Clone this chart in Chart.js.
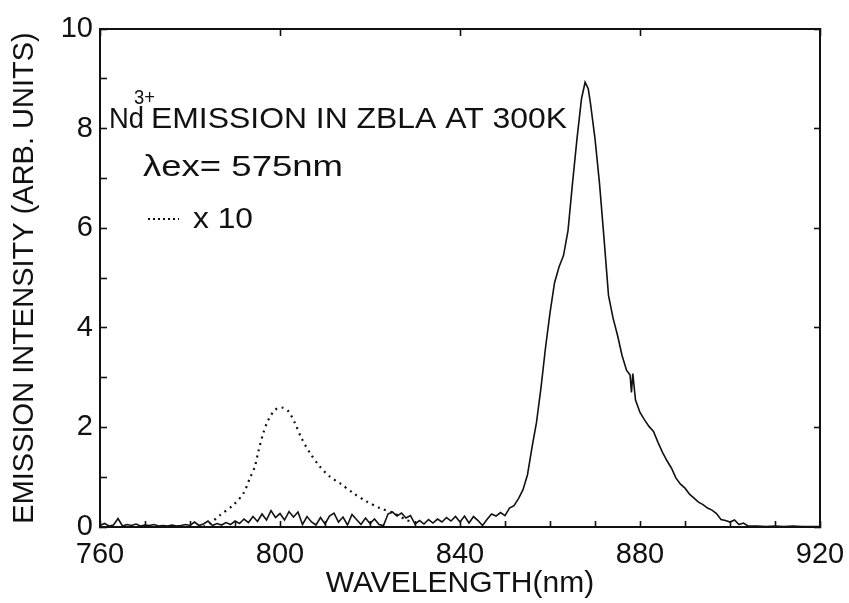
<!DOCTYPE html>
<html><head><meta charset="utf-8">
<script src="https://cdn.jsdelivr.net/npm/chart.js@4.4.1/dist/chart.umd.min.js"></script>
<style>html,body{margin:0;padding:0;background:#fff;}#wrap{width:849px;height:603px;}</style>
</head><body><div id="wrap"><canvas id="c" width="849" height="603"></canvas></div>
<script>
// ---- data ----
const solidWavelength = [760,761,762,763,764,765,766,767,768,769,770,771,772,773,774,775,776,777,778,779,
780,781,782,783,784,785,786,787,788,789,790,791,792,793,794,795,796,797,798,799,
800,801,802,803,804,805,806,807,808,809,810,811,812,813,814,815,816,817,818,819,
820,821,822,823,824,825,826,827,828,829,830,831,832,833,834,835,836,837,838,839,
840,841,842,843,844,845,846,847,848,849,850,851,852,853,854,855,856,857,858,859,
860,861,862,863,864,865,866,867,867.8,868.5,869,870,871,872,873,874,875,876,877,877.8,878.1,878.4,879,
880,881,882,883,884,885,886,887,888,889,890,891,892,893,894,895,896,897,898,899,
900,901,902,903,904,906,908,910,912,914,916,918,920];
const solidIntensity = [0.03,0.07,0.02,0.04,0.17,0.02,0.05,0.03,0.06,0.02,0.04,0.03,0.05,0.02,0.03,0.02,0.04,0.02,0.03,0.05,
0.03,0.10,0.03,0.06,0.12,0.03,0.07,0.04,0.09,0.05,0.12,0.07,0.16,0.09,0.21,0.11,0.26,0.14,0.33,0.19,
0.27,0.14,0.31,0.20,0.30,0.05,0.21,0.10,0.04,0.19,0.06,0.22,0.28,0.10,0.20,0.04,0.25,0.15,0.05,0.18,
0.07,0.16,0.05,0.03,0.26,0.30,0.22,0.28,0.18,0.23,0.06,0.13,0.06,0.15,0.08,0.16,0.10,0.19,0.12,0.21,
0.10,0.22,0.08,0.21,0.13,0.03,0.15,0.26,0.22,0.29,0.23,0.38,0.43,0.57,0.75,1.05,1.60,2.10,2.80,3.60,
4.30,4.90,5.22,5.45,5.95,6.90,7.80,8.60,8.93,8.80,8.50,7.80,6.90,5.80,4.65,4.20,3.85,3.45,3.15,3.05,2.70,3.08,2.55,
2.30,2.15,2.02,1.92,1.70,1.50,1.33,1.18,0.98,0.86,0.78,0.66,0.58,0.50,0.45,0.38,0.34,0.27,0.15,0.13,
0.10,0.14,0.05,0.08,0.02,0.02,0.01,0.02,0.01,0.02,0.01,0.01,0.01];
const dottedWavelength = [783,784.4,786.7,789.6,791.9,793.3,794.4,795.2,796.3,797.4,798.9,800.4,801.9,803.3,804.8,806.7,808.9,811.1,813.3,816.3,819.3,822.2,825.2,828.1,829.5];
const dottedIntensity = [0.0,0.07,0.24,0.44,0.68,0.98,1.21,1.52,1.89,2.15,2.35,2.40,2.32,2.09,1.78,1.48,1.21,1.01,0.88,0.68,0.51,0.38,0.28,0.14,0.10];
const xMin = 760, xMax = 920, xLabelStep = 40, xMinorStep = 10;
const yMin = 0, yMax = 10, yLabelStep = 2, yMinorStep = 1;
const xTitle = 'WAVELENGTH(nm)';
const yTitle = 'EMISSION INTENSITY (ARB. UNITS)';
const noteLine1Main = 'Nd', noteSup = '3+', noteLine1Rest = 'EMISSION IN ZBLA AT 300K';
const noteLine2 = '\u03BBex= 575nm';
const noteLine3 = 'x 10';

const FAM = "'Liberation Sans', Arial, Helvetica, sans-serif";
const INK = '#111';

const solid = solidWavelength.map((x,i)=>({x, y: solidIntensity[i]}));
const dotted = dottedWavelength.map((x,i)=>({x, y: dottedIntensity[i]}));

function fitText(ctx, text, x, y, size, targetW){
  ctx.font = size + 'px ' + FAM;
  const w = ctx.measureText(text).width;
  const sx = targetW ? targetW / w : 1;
  ctx.save(); ctx.translate(x, y); ctx.scale(sx, 1); ctx.fillText(text, 0, 0); ctx.restore();
}

const notes = {
  id: 'notes',
  afterDraw(chart){
    const ctx = chart.ctx;
    ctx.save();
    ctx.fillStyle = INK; ctx.textBaseline = 'alphabetic'; ctx.textAlign = 'left';
    fitText(ctx, noteLine1Main, 109, 128, 30, 35);
    fitText(ctx, noteSup, 134, 104, 21, 21);
    fitText(ctx, noteLine1Rest, 151, 128, 29, 416);
    fitText(ctx, noteLine2, 143, 176, 29, 200);
    fitText(ctx, noteLine3, 193, 228, 29, 60);
    ctx.strokeStyle = INK; ctx.lineWidth = 2; ctx.setLineDash([2,3]);
    ctx.beginPath(); ctx.moveTo(148, 219); ctx.lineTo(179, 219); ctx.stroke();
    ctx.restore();
  }
};

function fixBox(w, h){
  return s => {
    if (w !== null) s.width = w;
    if (h !== null) s.height = h;
    s.paddingLeft = 0; s.paddingRight = 0; s.paddingTop = 0; s.paddingBottom = 0;
  };
}

const tickFont = {family: FAM, size: 29};
new Chart(document.getElementById('c'), {
  type: 'line',
  data: { datasets: [
    {data: solid, borderColor: INK, borderWidth: 1.6, pointRadius: 0, tension: 0, fill: false, clip: 4},
    {data: dotted, borderColor: INK, borderWidth: 2.2, borderDash: [2,4.5], pointRadius: 0, tension: 0.3, fill: false, clip: 4}
  ]},
  options: {
    responsive: false, animation: false, events: [],
    layout: {padding: 0},
    plugins: {legend: {display: false}, tooltip: {enabled: false}},
    scales: {
      x: {type: 'linear', position: 'bottom', min: xMin, max: xMax,
          ticks: {stepSize: xMinorStep, autoSkip: false, maxRotation: 0, color: INK, font: tickFont, padding: 17,
                  callback: v => (v % xLabelStep === 0 ? String(v) : '')},
          grid: {drawOnChartArea: false, tickLength: -6, tickWidth: 1.6, tickColor: INK},
          border: {color: INK, width: 2},
          title: {display: true, text: xTitle, color: INK, font: {family: FAM, size: 30}, padding: {top: 0, bottom: 1}},
          afterFit: fixBox(null, 76)},
      x2: {type: 'linear', position: 'top', min: xMin, max: xMax,
          ticks: {stepSize: xLabelStep, display: false},
          grid: {drawOnChartArea: false, tickLength: -7, tickWidth: 1.6, tickColor: INK},
          border: {color: INK, width: 2},
          afterFit: fixBox(null, 29)},
      y: {type: 'linear', position: 'left', min: yMin, max: yMax,
          ticks: {stepSize: yMinorStep, autoSkip: false, color: INK, font: tickFont, padding: 14,
                  callback: v => (v % yLabelStep === 0 ? String(v) : '')},
          grid: {drawOnChartArea: false, tickLength: -7, tickWidth: 1.6, tickColor: INK},
          border: {color: INK, width: 2},
          title: {display: true, text: yTitle, color: INK, font: {family: FAM, size: 29}, padding: {top: 8, bottom: 0}},
          afterFit: fixBox(100, null)},
      y2: {type: 'linear', position: 'right', min: yMin, max: yMax,
          ticks: {stepSize: yLabelStep, display: false},
          grid: {drawOnChartArea: false, tickLength: -6, tickWidth: 1.6, tickColor: INK},
          border: {color: INK, width: 2},
          afterFit: fixBox(29, null)}
    }
  },
  plugins: [notes]
});
</script></body></html>
